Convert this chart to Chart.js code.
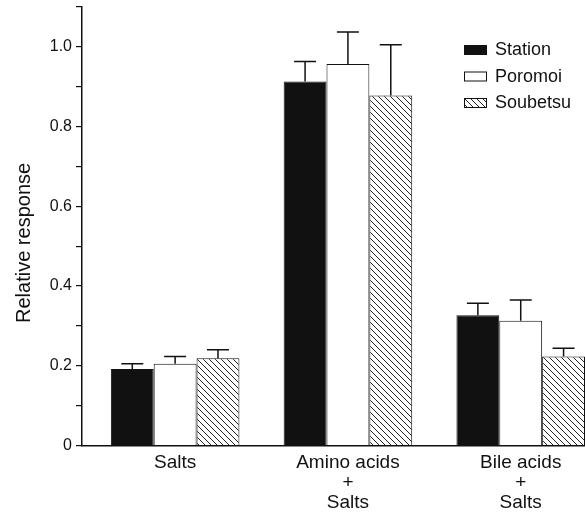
<!DOCTYPE html>
<html>
<head>
<meta charset="utf-8">
<script src="https://cdn.jsdelivr.net/npm/chart.js@4.4.1/dist/chart.umd.min.js"></script>
<style>
  html, body { margin: 0; padding: 0; background: #fff; overflow: hidden; }
  #wrap { position: relative; width: 585px; height: 513px; }
</style>
</head>
<body>
<div id="wrap"><canvas id="response_chart"></canvas></div>
<script>
const groups = [["Salts"], ["Amino acids", "+", "Salts"], ["Bile acids", "+", "Salts"]];
const seriesNames = ["Station", "Poromoi", "Soubetsu"];

// mean relative response and upper error (SE) per group
const station = [0.192, 0.913, 0.327];
const stationErr = [0.013, 0.050, 0.030];
const poromoi = [0.205, 0.957, 0.313];
const poromoiErr = [0.018, 0.080, 0.052];
const soubetsu = [0.219, 0.878, 0.223];
const soubetsuErr = [0.021, 0.127, 0.021];

const yLabels = [0, 0.2, 0.4, 0.6, 0.8, 1.0];

const FONT = "'Liberation Sans', Arial, sans-serif";
const INK = "#111";

// diagonal hatching for the third series
function hatchPattern() {
  const c = document.createElement("canvas");
  c.width = 6; c.height = 6;
  const g = c.getContext("2d");
  g.fillStyle = "#fff";
  g.fillRect(0, 0, 6, 6);
  g.strokeStyle = "#222";
  g.lineWidth = 1;
  g.beginPath();
  g.moveTo(-1, -1); g.lineTo(7, 7);
  g.moveTo(-1, 5); g.lineTo(1, 7);
  g.moveTo(5, -1); g.lineTo(7, 1);
  g.stroke();
  return g.createPattern(c, "repeat");
}

const toPoints = arr => arr.map((v, i) => ({ x: i, y: v }));

const data = {
  datasets: [
    {
      label: seriesNames[0],
      data: toPoints(station),
      errors: stationErr,
      backgroundColor: INK,
      borderColor: INK,
      borderWidth: 1
    },
    {
      label: seriesNames[1],
      data: toPoints(poromoi),
      errors: poromoiErr,
      backgroundColor: "#fff",
      borderColor: INK,
      borderWidth: 1
    },
    {
      label: seriesNames[2],
      data: toPoints(soubetsu),
      errors: soubetsuErr,
      backgroundColor: hatchPattern(),
      borderColor: INK,
      borderWidth: 1
    }
  ]
};

// upper error bars with caps
const errorBars = {
  id: "errorBars",
  afterDatasetsDraw(chart) {
    const ctx = chart.ctx;
    const y = chart.scales.y;
    chart.data.datasets.forEach((ds, i) => {
      chart.getDatasetMeta(i).data.forEach((bar, j) => {
        const top = y.getPixelForValue(ds.data[j].y + ds.errors[j]);
        const half = 11;
        ctx.save();
        ctx.strokeStyle = INK;
        ctx.lineWidth = 1.5;
        ctx.beginPath();
        ctx.moveTo(bar.x, bar.y);
        ctx.lineTo(bar.x, top);
        ctx.moveTo(bar.x - half, top);
        ctx.lineTo(bar.x + half, top);
        ctx.stroke();
        ctx.restore();
      });
    });
  }
};

// legend drawn inside the plot, top right
const boxLegend = {
  id: "boxLegend",
  afterDraw(chart) {
    const ctx = chart.ctx;
    const area = chart.chartArea;
    const x0 = area.right - 121;
    const rows = [38, 64.5, 91];
    ctx.save();
    chart.data.datasets.forEach((ds, i) => {
      const top = area.top + rows[i];
      ctx.fillStyle = ds.backgroundColor;
      ctx.fillRect(x0, top, 23, 10);
      ctx.strokeStyle = INK;
      ctx.lineWidth = 1;
      ctx.strokeRect(x0 + 0.5, top + 0.5, 22, 9);
      ctx.fillStyle = INK;
      ctx.font = "18px " + FONT;
      ctx.textBaseline = "middle";
      ctx.textAlign = "left";
      ctx.fillText(ds.label, x0 + 31, top + 5.5);
    });
    ctx.restore();
  }
};

const config = {
  type: "bar",
  data: data,
  options: {
    responsive: true,
    maintainAspectRatio: false,
    animation: false,
    categoryPercentage: 0.744,
    barPercentage: 1,
    layout: { padding: { top: 7, right: 0, bottom: 0, left: 0 } },
    plugins: {
      legend: { display: false },
      tooltip: { enabled: false }
    },
    scales: {
      x: {
        type: "linear",
        min: -0.539,
        max: 2.372,
        offset: false,
        border: { color: INK, width: 1.5 },
        grid: { offset: false, drawOnChartArea: false, drawTicks: false },
        ticks: {
          stepSize: 1,
          includeBounds: false,
          autoSkip: false,
          maxRotation: 0,
          padding: 7,
          color: INK,
          font: { family: FONT, size: 19, lineHeight: 1.05 },
          callback: v => groups[v] || ""
        },
        afterFit: s => { s.height = 67.5; s.paddingLeft = 0; s.paddingRight = 0; }
      },
      y: {
        min: 0,
        max: 1.1,
        border: { color: INK, width: 1.5 },
        grid: { drawOnChartArea: false, drawTicks: true, tickLength: 6, color: INK, lineWidth: 1.2 },
        ticks: {
          stepSize: 0.1,
          padding: 4,
          color: INK,
          font: { family: FONT, size: 16 },
          callback: v => {
            const hit = yLabels.find(l => Math.abs(l - v) < 1e-6);
            if (hit === undefined) return "";
            return hit === 0 ? "0" : hit.toFixed(1);
          }
        },
        title: {
          display: true,
          text: "Relative response      ",
          color: INK,
          font: { family: FONT, size: 20 },
          padding: { top: 12, bottom: 0 }
        },
        afterFit: s => { s.width = 82; s.paddingTop = 0; s.paddingBottom = 0; }
      }
    }
  },
  plugins: [errorBars, boxLegend]
};

const responseChart = new Chart(document.getElementById("response_chart"), config);
</script>
</body>
</html>
